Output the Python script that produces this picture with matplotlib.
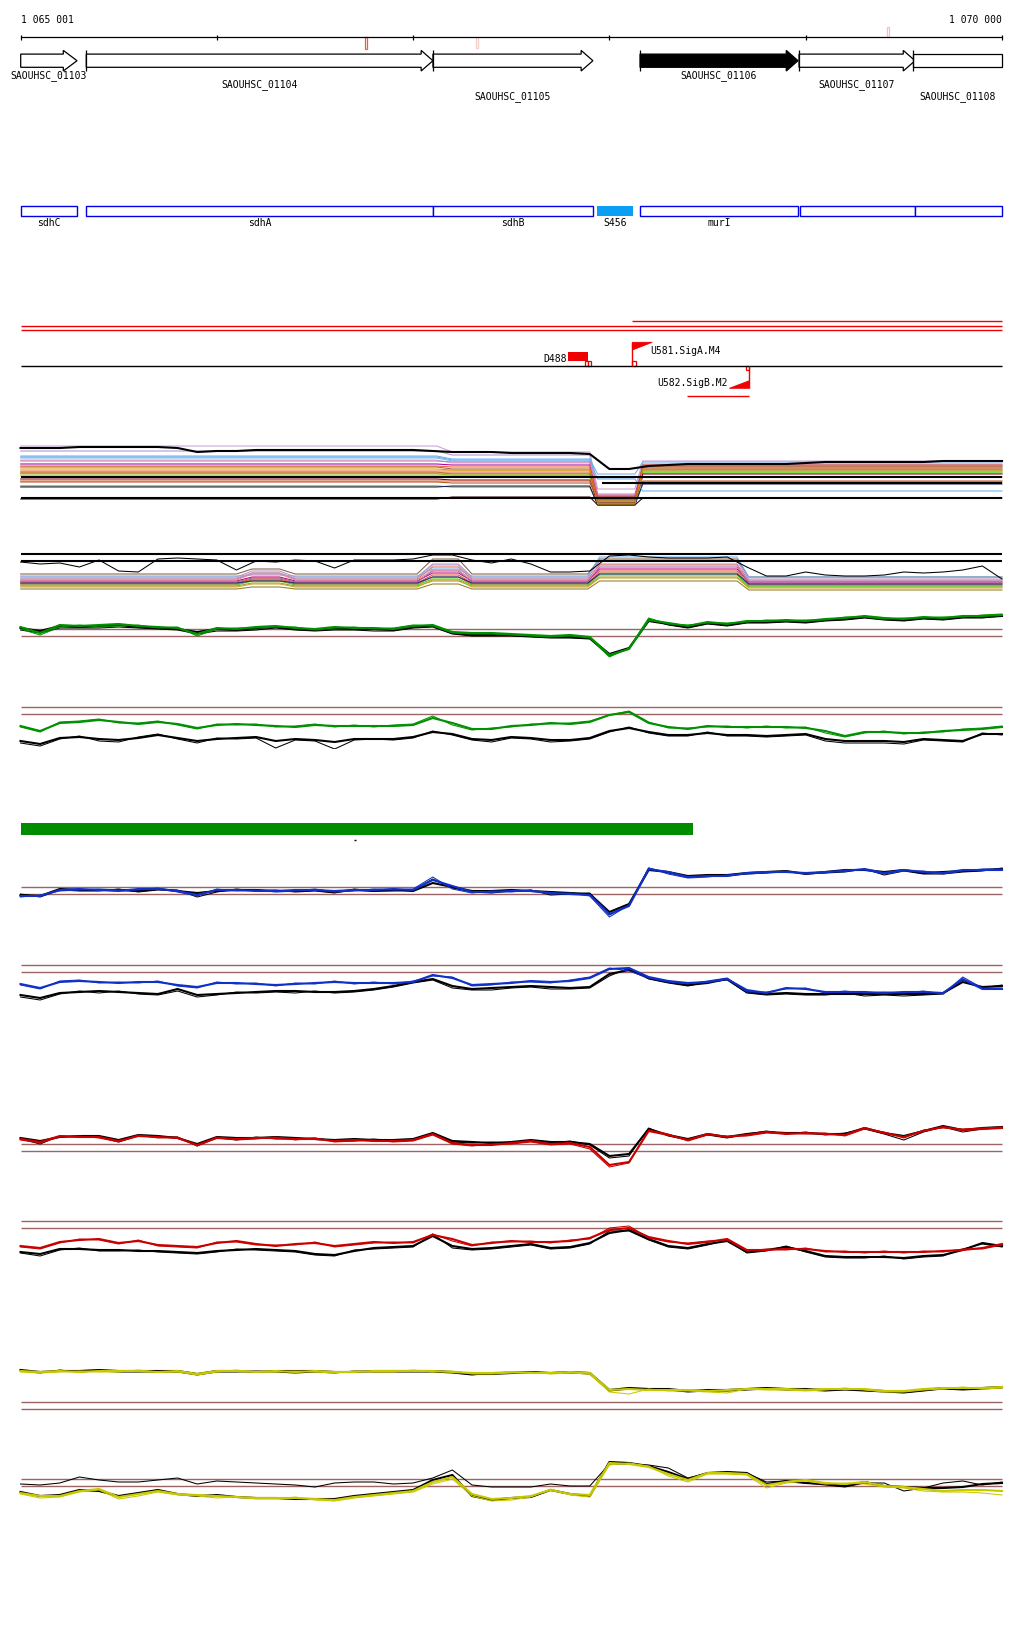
import matplotlib
matplotlib.use('Agg')
import matplotlib.pyplot as plt
from matplotlib.patches import Polygon, Rectangle

# ---------------- layout constants ----------------
W, H = 1024, 1640
START, END = 1065001, 1070000
PX_LEFT, PX_RIGHT = 20.7, 1002.0
BPP = (END - START) / (PX_RIGHT - PX_LEFT)
XL = (START - PX_LEFT * BPP, START + (W - PX_LEFT) * BPP)

# ---------------- data ----------------
RULER_TICKS = [1065001, 1066000, 1067000, 1068000, 1069000, 1070000]
RULER_LABELS = ['1 065 001', '1 070 000']
RULER_MARKS = [1066755, 1067320, 1069414]
RULER_MARK_COLORS = ['#F06040', '#F0D0C8', '#F8C0B0']

GENE_NAMES = ['SAOUHSC_01103', 'SAOUHSC_01104', 'SAOUHSC_01105',
              'SAOUHSC_01106', 'SAOUHSC_01107', 'SAOUHSC_01108']
GENE_START = [1065001, 1065335, 1067101, 1068156, 1068966, 1069547]
GENE_END = [1065288, 1067101, 1067916, 1068961, 1069557, 1070000]
GENE_FILLED = [False, False, False, True, False, False]
GENE_ROW = [0, 1, 2, 0, 1, 2]

FEAT_NAMES = ['sdhC', 'sdhA', 'sdhB', 'S456', 'murI', '', '']
FEAT_START = [1065001, 1065335, 1067101, 1067937, 1068156, 1068971, 1069557]
FEAT_END = [1065288, 1067101, 1067916, 1068120, 1068961, 1069557, 1070000]
FEAT_KIND = ['cds', 'cds', 'cds', 'srna', 'cds', 'cds', 'cds']

RED_SEG_START = [1068113, 1065001, 1065001]
RED_SEG_END = [1070000, 1070000, 1070000]

D488 = (1067787, 1067892)
U581 = (1068117, 1068218)
U582 = (1068611, 1068713)
U582_LINE = (1068394, 1068713)

GREEN_BAR = (1065001, 1068428)
DASH_POS = 1066704

POS = list(range(1065000, 1070001, 100))

# bundle A (many conditions): levels left / mid / dip / right
A_COLORS = ['#C8A0D8', '#B090D0', '#70B0F0', '#80B8E8', '#C8B0E0', '#A000A0',
            '#F06030', '#B06030', '#E8703A', '#A0A010', '#90C020', '#40E010',
            '#800020', '#D06040', '#C05018', '#808000', '#102060', '#300010',
            '#60B0F0', '#E070A0', '#D0A000', '#E05030']
A_LEFT = [65, 60, 55, 53, 51, 47, 45, 44, 40, 39, 37, 35, 32, 30, 29, 25, 24, 12, 54, 50, 42, 38]
A_MID = [59, 56, 52, 50, 48, 46, 44, 42, 40, 37, 36, 35, 31, 30, 28, 24, 25, 14, 51, 49, 41, 38]
A_DIP = [22, 17, 37, 12, 14, 15, 12, 10, 9, 7, 9, 10, 8, 12, 14, 7, 6, 6, 32, 16, 7, 11]
A_RIGHT = [50, 47, 49, 44, 46, 42, 45, 44, 40, 41, 39, 38, 37, 34, 30, 29, 27, 13, 20, 34, 43, 46]
A_BLACK_TOP = [63, 63, 63, 64, 64, 64, 64, 64, 63, 59, 60, 60, 61, 61, 61, 61, 61, 61, 61, 61, 61,
               60, 59, 59, 59, 58, 58, 58, 58, 57, 42, 42, 45, 46, 47, 47, 47, 47, 47, 47, 48,
               49, 49, 49, 49, 49, 49, 50, 50, 50, 50]
A_BLACK_LEVELS = [34, 13]
A_BLACK_RIGHT_LEVEL = 28

# bundle A2: levels base / bump1 / bump2 / raised / right
A2_COLORS = ['#806040', '#C090C0', '#E07040', '#70B0F0', '#C00080', '#A060A0', '#E05040',
             '#A0A020', '#40D010', '#908020', '#B06030', '#E080A0', '#203080', '#B0A0E0', '#D0A030']
A2_BASE = [23, 20, 18, 21, 16, 15, 14, 11, 12, 8, 13, 17, 14, 19, 10]
A2_BUMP1 = [28, 26, 24, 22, 20, 19, 18, 14, 16, 10, 17, 23, 16, 24, 13]
A2_BUMP2 = [38, 33, 30, 28, 24, 26, 22, 16, 18, 13, 20, 27, 20, 32, 17]
A2_RAISED = [38, 36, 32, 40, 28, 30, 26, 20, 22, 16, 24, 33, 23, 37, 19]
A2_RIGHT = [20, 18, 16, 20, 15, 14, 13, 10, 11, 7, 12, 16, 13, 17, 9]
A2_BLACK = [35, 33, 34, 30, 37, 26, 25, 38, 39, 38, 37, 27, 36, 35, 37, 36, 29, 37, 37, 37, 38,
            42, 42, 37, 34, 38, 33, 25, 25, 26, 41, 42, 40, 39, 39, 39, 40, 30, 21, 21, 25,
            22, 21, 21, 22, 25, 24, 25, 27, 31, 18]
A2_REF = [43, 36]

B_COL1 = [34, 28, 36, 35, 36, 37, 35, 34, 33, 27, 33, 32, 34, 35, 33, 32, 34, 33, 33, 32, 35, 36, 29, 28, 28, 27,
          26, 25, 26, 24, 6, 12, 41, 38, 35, 39, 37, 40, 40, 41, 40, 42, 43, 45, 43, 42, 44, 43, 45, 45, 46]
B_COL2 = [32, 26, 34, 36, 34, 35, 36, 33, 34, 25, 32, 33, 33, 34, 34, 31, 33, 34, 32, 33, 36, 35, 28, 27, 27, 26,
          25, 24, 25, 23, 4, 13, 43, 37, 36, 38, 38, 39, 41, 40, 41, 41, 44, 44, 42, 43, 43, 44, 44, 46, 47]
B_BLK1 = [33, 30, 35, 34, 35, 36, 34, 33, 32, 29, 32, 31, 33, 34, 32, 31, 33, 32, 32, 31, 34, 35, 28, 26, 26, 26,
          25, 24, 24, 23, 7, 13, 40, 37, 34, 38, 36, 39, 39, 40, 39, 41, 42, 44, 42, 41, 43, 42, 44, 44, 45]
B_BLK2 = [31, 28, 33, 33, 33, 34, 33, 32, 31, 27, 30, 30, 31, 33, 31, 30, 31, 31, 30, 30, 33, 34, 27, 25, 25, 25,
          24, 23, 23, 22, 5, 12, 42, 36, 33, 37, 35, 38, 38, 39, 38, 40, 41, 43, 41, 40, 42, 41, 43, 43, 45]
B_REF = [32, 25]

C_COL1 = [23, 18, 26, 27, 29, 27, 25, 27, 25, 21, 24, 25, 24, 23, 22, 24, 23, 23, 23, 23, 24, 31, 26, 20, 20, 23,
          24, 26, 25, 27, 34, 37, 26, 22, 20, 23, 22, 22, 22, 22, 21, 18, 13, 17, 17, 16, 16, 18, 19, 20, 22]
C_COL2 = [22, 17, 27, 28, 30, 26, 26, 28, 24, 20, 25, 24, 25, 22, 23, 25, 22, 24, 22, 24, 25, 33, 24, 19, 21, 22,
          25, 25, 26, 28, 34, 38, 27, 21, 21, 22, 23, 21, 23, 21, 22, 16, 12, 16, 18, 15, 17, 17, 20, 21, 23]
C_BLK1 = [8, 5, 11, 12, 10, 9, 11, 14, 11, 8, 10, 11, 12, 8, 10, 9, 7, 10, 10, 10, 12, 17, 15, 10, 9, 12,
          11, 9, 9, 11, 18, 21, 17, 14, 14, 16, 14, 14, 13, 14, 15, 10, 8, 8, 8, 7, 10, 9, 8, 15, 15]
C_BLK2 = [6, 3, 10, 13, 8, 7, 12, 15, 10, 6, 11, 10, 11, 1, 9, 8, 0, 9, 10, 9, 11, 18, 14, 9, 7, 11,
          10, 7, 8, 10, 17, 22, 16, 13, 13, 17, 13, 13, 12, 13, 14, 8, 6, 6, 6, 5, 9, 8, 7, 16, 14]
C_REF = [42, 35]

D_COL1 = [28, 28, 34, 35, 34, 33, 35, 35, 33, 29, 34, 34, 33, 33, 34, 34, 33, 34, 34, 35, 34, 44, 38, 32, 32, 33,
          33, 31, 30, 29, 10, 18, 55, 52, 47, 48, 48, 51, 52, 52, 51, 52, 53, 55, 51, 54, 52, 51, 54, 54, 54]
D_COL2 = [27, 29, 33, 34, 35, 34, 34, 36, 32, 28, 35, 33, 34, 32, 33, 35, 32, 33, 35, 34, 35, 47, 35, 31, 33, 32,
          34, 30, 31, 28, 7, 19, 56, 50, 46, 47, 49, 50, 51, 53, 50, 51, 54, 54, 50, 53, 53, 50, 53, 55, 55]
D_BLK1 = [29, 28, 35, 34, 34, 34, 33, 35, 33, 31, 33, 34, 34, 33, 33, 34, 32, 34, 33, 34, 33, 41, 37, 33, 33, 34,
          33, 32, 31, 30, 12, 20, 54, 52, 48, 49, 49, 51, 52, 53, 50, 52, 54, 54, 52, 54, 51, 52, 53, 54, 55]
D_BLK2 = [30, 27, 34, 33, 33, 35, 32, 34, 34, 27, 32, 35, 33, 34, 32, 33, 31, 35, 33, 33, 34, 45, 36, 32, 31, 33,
          34, 29, 30, 31, 9, 19, 56, 51, 47, 48, 48, 50, 51, 52, 51, 51, 52, 55, 49, 53, 50, 50, 52, 53, 56]
D_REF = [37, 30]

E_COL1 = [20, 16, 22, 23, 22, 21, 22, 22, 19, 17, 21, 21, 20, 19, 20, 21, 22, 21, 21, 21, 22, 29, 26, 19, 20, 21,
          23, 22, 23, 26, 35, 36, 27, 23, 21, 22, 25, 14, 11, 16, 15, 12, 12, 12, 11, 12, 12, 11, 25, 15, 15]
E_COL2 = [19, 15, 23, 24, 21, 22, 21, 23, 18, 16, 22, 20, 21, 18, 21, 20, 23, 20, 22, 20, 23, 28, 27, 18, 19, 22,
          22, 21, 24, 27, 36, 33, 26, 22, 20, 23, 26, 12, 12, 15, 16, 11, 13, 11, 12, 11, 13, 10, 27, 16, 16]
E_BLK1 = [9, 6, 11, 12, 13, 12, 11, 10, 15, 9, 10, 11, 12, 13, 13, 12, 12, 13, 15, 18, 22, 25, 18, 15, 16, 17,
          18, 17, 16, 17, 30, 34, 26, 22, 19, 21, 25, 12, 10, 11, 10, 10, 10, 10, 10, 10, 10, 11, 22, 17, 18]
E_BLK2 = [7, 4, 10, 13, 11, 13, 10, 9, 13, 7, 9, 12, 11, 12, 11, 13, 11, 12, 14, 17, 21, 24, 16, 14, 14, 16,
          17, 15, 15, 16, 28, 36, 25, 21, 18, 22, 24, 11, 9, 10, 9, 9, 11, 8, 9, 8, 9, 10, 24, 16, 19]
E_REF = [39, 32]

F_COL1 = [32, 29, 35, 34, 34, 30, 35, 34, 33, 26, 33, 32, 33, 33, 32, 32, 30, 31, 30, 30, 31, 37, 28, 26, 26, 28,
          30, 27, 28, 24, 6, 9, 40, 36, 31, 37, 34, 36, 39, 37, 38, 37, 36, 43, 38, 34, 40, 44, 41, 42, 43]
F_COL2 = [31, 28, 34, 35, 33, 29, 36, 33, 34, 25, 34, 31, 32, 34, 31, 33, 29, 30, 31, 29, 30, 36, 27, 25, 27, 27,
          29, 26, 27, 22, 4, 8, 41, 37, 30, 36, 35, 35, 38, 38, 37, 38, 35, 42, 39, 33, 41, 43, 42, 43, 44]
F_BLK1 = [33, 30, 34, 35, 35, 31, 36, 35, 33, 27, 34, 33, 33, 34, 33, 32, 31, 32, 31, 31, 32, 38, 30, 29, 28, 29,
          31, 29, 29, 27, 15, 17, 42, 36, 32, 37, 34, 37, 39, 38, 38, 37, 37, 43, 38, 35, 40, 45, 41, 43, 44]
F_BLK2 = [32, 27, 35, 34, 34, 29, 35, 34, 34, 25, 33, 31, 34, 32, 32, 33, 30, 30, 32, 30, 31, 37, 29, 28, 29, 28,
          30, 28, 30, 26, 13, 15, 43, 35, 31, 36, 33, 37, 40, 37, 39, 36, 38, 42, 37, 31, 39, 44, 39, 42, 43]
F_REF = [27, 20]

G_COL1 = [15, 13, 19, 21, 22, 18, 20, 16, 15, 14, 18, 20, 17, 15, 17, 18, 15, 17, 19, 18, 19, 26, 22, 16, 18, 20,
          19, 19, 20, 23, 31, 33, 24, 20, 17, 19, 22, 11, 11, 12, 12, 10, 9, 9, 9, 9, 9, 10, 11, 13, 17]
G_COL2 = [14, 12, 18, 22, 21, 17, 21, 15, 14, 13, 19, 19, 16, 16, 16, 19, 14, 16, 18, 19, 18, 27, 20, 15, 19, 19,
          20, 18, 21, 22, 33, 35, 23, 19, 18, 20, 21, 10, 12, 11, 13, 9, 10, 8, 10, 8, 10, 9, 12, 12, 16]
G_BLK1 = [9, 7, 12, 12, 11, 11, 10, 10, 9, 8, 10, 11, 12, 11, 10, 7, 6, 10, 13, 14, 15, 25, 15, 12, 13, 15,
          17, 13, 14, 18, 28, 31, 22, 15, 13, 17, 20, 9, 11, 14, 10, 5, 4, 4, 4, 3, 5, 6, 11, 18, 15]
G_BLK2 = [8, 5, 11, 13, 10, 10, 11, 9, 8, 7, 9, 12, 11, 10, 9, 6, 5, 11, 12, 13, 14, 27, 13, 11, 12, 14,
          16, 12, 13, 17, 30, 30, 21, 14, 12, 16, 21, 8, 10, 15, 9, 4, 3, 3, 5, 2, 4, 5, 12, 17, 14]
G_REF = [40, 33]

H_COL1 = [43, 42, 43, 42, 43, 43, 43, 42, 43, 40, 43, 43, 42, 43, 42, 43, 42, 42, 43, 43, 43, 43, 42, 41, 41, 42,
          41, 41, 42, 41, 24, 25, 24, 24, 24, 23, 24, 25, 25, 25, 24, 25, 25, 25, 23, 23, 25, 26, 26, 26, 27]
H_COL2 = [42, 41, 42, 43, 42, 42, 44, 42, 42, 39, 42, 44, 42, 42, 43, 42, 41, 43, 42, 42, 44, 42, 43, 40, 40, 41,
          42, 40, 41, 40, 22, 20, 25, 23, 23, 22, 21, 25, 24, 24, 23, 24, 26, 24, 22, 22, 24, 25, 27, 25, 26]
H_BLK1 = [44, 42, 43, 43, 44, 43, 43, 43, 43, 40, 43, 43, 42, 43, 43, 43, 42, 42, 43, 43, 43, 43, 42, 40, 40, 41,
          42, 41, 42, 41, 24, 26, 25, 25, 23, 24, 24, 25, 26, 25, 25, 24, 25, 24, 23, 22, 24, 26, 25, 26, 27]
H_BLK2 = [43, 41, 44, 42, 43, 42, 42, 42, 42, 39, 42, 42, 43, 42, 41, 42, 41, 43, 42, 42, 42, 42, 41, 39, 41, 42,
          41, 41, 41, 40, 23, 25, 24, 24, 22, 23, 23, 24, 25, 24, 24, 23, 24, 23, 22, 21, 23, 25, 24, 25, 26]
H_REF = [12, 5]

I_COL1 = [11, 8, 8, 13, 15, 7, 10, 13, 10, 9, 8, 7, 6, 6, 6, 5, 4, 7, 9, 11, 13, 22, 27, 10, 5, 6,
          8, 14, 10, 9, 41, 40, 37, 30, 24, 31, 31, 30, 19, 22, 24, 21, 20, 22, 18, 17, 15, 13, 14, 14, 13]
I_COL2 = [10, 6, 7, 12, 14, 5, 8, 12, 9, 8, 6, 7, 5, 5, 7, 4, 3, 6, 8, 10, 12, 20, 25, 8, 3, 4,
          7, 15, 9, 7, 39, 41, 38, 28, 22, 30, 30, 29, 16, 21, 23, 20, 21, 20, 17, 16, 13, 12, 12, 11, 9]
I_BLK1 = [12, 8, 9, 14, 13, 8, 11, 14, 10, 8, 9, 7, 6, 6, 5, 5, 5, 8, 10, 12, 14, 24, 29, 8, 4, 6,
          7, 14, 10, 8, 42, 41, 38, 32, 25, 31, 32, 31, 20, 23, 21, 20, 18, 22, 18, 17, 16, 16, 17, 20, 21]
I_BLK2 = [20, 19, 21, 27, 24, 22, 22, 24, 26, 20, 23, 22, 21, 20, 19, 17, 21, 22, 22, 20, 21, 26, 34, 19, 17, 17,
          17, 20, 18, 18, 40, 40, 39, 36, 26, 31, 31, 31, 22, 23, 21, 19, 17, 21, 21, 13, 16, 21, 23, 19, 22]
I_REF = [25, 18]

# ---------------- figure ----------------
MONO = 'DejaVu Sans Mono'
FS = 7
fig = plt.figure(figsize=(W / 100, H / 100), dpi=100)
fig.patch.set_facecolor('white')

ax0 = fig.add_axes([0, 0, 1, 1])
ax0.set_xlim(XL)
ax0.set_ylim(H, 0)
ax0.axis('off')

# ruler
ax0.hlines(38.3, START, END, color='black', lw=0.9)
ax0.vlines(RULER_TICKS, 35.5, 41, color='black', lw=0.9)
ax0.text(RULER_TICKS[0], 20, RULER_LABELS[0], family=MONO, fontsize=FS, ha='left', va='center')
ax0.text(RULER_TICKS[-1], 20, RULER_LABELS[1], family=MONO, fontsize=FS, ha='right', va='center')
mark_y = [(38.3, 11.5), (38.3, 10.5), (28.3, 10)]
for pos, col, (y0, hh) in zip(RULER_MARKS, RULER_MARK_COLORS, mark_y):
    ax0.add_patch(Rectangle((pos, y0), 10, hh, facecolor='white', edgecolor=col, lw=0.9))

# genes
HEAD = 60
ym, bh, hh = 61.7, 6.6, 10.3
label_rows = [76, 85, 97]
for i, (nm, s, e, filled, row) in enumerate(zip(GENE_NAMES, GENE_START, GENE_END, GENE_FILLED, GENE_ROW)):
    fc = 'black' if filled else 'white'
    if i == len(GENE_NAMES) - 1:
        pts = [(s, ym - bh), (e, ym - bh), (e, ym + bh), (s, ym + bh)]
    else:
        hl = 70 if i == 0 else HEAD
        pts = [(s, ym - bh), (e - hl, ym - bh), (e - hl, ym - hh), (e, ym),
               (e - hl, ym + hh), (e - hl, ym + bh), (s, ym + bh)]
    ax0.add_patch(Polygon(pts, closed=True, facecolor=fc, edgecolor='black', lw=0.9, zorder=3))
    if i > 0:
        ax0.vlines(s, ym - hh, ym + hh, color='black', lw=0.9, zorder=4)
    ax0.text((s + e) / 2, label_rows[row], nm, family=MONO, fontsize=FS, ha='center', va='center', zorder=5)

# features
for nm, s, e, kind in zip(FEAT_NAMES, FEAT_START, FEAT_END, FEAT_KIND):
    if kind == 'srna':
        ax0.add_patch(Rectangle((s, 207.3), e - s, 10, facecolor='#0A9EF5', edgecolor='none'))
    else:
        ax0.add_patch(Rectangle((s, 207.3), e - s, 10, facecolor='white', edgecolor='#0000E8', lw=1.0))
    if nm:
        ax0.text((s + e) / 2, 223.5, nm, family=MONO, fontsize=FS, ha='center', va='center')

# red lines and transcription features
for s, e, y in zip(RED_SEG_START, RED_SEG_END, [322.3, 327.3, 331.3]):
    ax0.hlines(y, s, e, color='#F00000', lw=1.0)
ax0.hlines(366.7, START, END, color='black', lw=1.0)

ax0.add_patch(Rectangle((D488[0], 353), D488[1] - D488[0], 8.7, facecolor='#F00000', edgecolor='none'))
for x0 in (D488[1] - 16, D488[1]):
    ax0.add_patch(Rectangle((x0, 362), 15, 4.7, facecolor='white', edgecolor='#F00000', lw=0.9))
ax0.text(D488[0] - 5, 358.5, 'D488', family=MONO, fontsize=FS, ha='right', va='center')

ax0.vlines(U581[0], 343.3, 366.7, color='#F00000', lw=1.0)
ax0.add_patch(Polygon([(U581[0], 343.3), (U581[1], 343.3), (U581[0], 351)], closed=True,
                      facecolor='#F00000', edgecolor='#F00000', lw=0.6))
ax0.add_patch(Rectangle((U581[0], 362), 18, 4.7, facecolor='white', edgecolor='#F00000', lw=0.9))
ax0.text(U581[1] - 12, 350.5, 'U581.SigA.M4', family=MONO, fontsize=FS, ha='left', va='center')

ax0.vlines(U582[1], 366.7, 389.3, color='#F00000', lw=1.0)
ax0.add_patch(Polygon([(U582[1], 389.3), (U582[0], 389.3), (U582[1], 381.7)], closed=True,
                      facecolor='#F00000', edgecolor='#F00000', lw=0.6))
ax0.add_patch(Rectangle((U582[1] - 18, 366.7), 18, 4.5, facecolor='white', edgecolor='#F00000', lw=0.9))
ax0.text(U582[0] - 8, 383, 'U582.SigB.M2', family=MONO, fontsize=FS, ha='right', va='center')
ax0.hlines(397.3, U582_LINE[0], U582_LINE[1], color='#F00000', lw=1.0)

# green bar + dash
ax0.add_patch(Rectangle((GREEN_BAR[0], 824), GREEN_BAR[1] - GREEN_BAR[0], 11.7,
                        facecolor='#008C00', edgecolor='none'))
ax0.hlines(841, DASH_POS - 6, DASH_POS + 6, color='black', lw=1.0)


def track_ax(top, bottom):
    ax = fig.add_axes([0, 1 - bottom / H, 1, (bottom - top) / H])
    ax.set_xlim(XL)
    ax.set_ylim(0, bottom - top)
    ax.axis('off')
    ax.set_facecolor('none')
    return ax


REF_COL = '#9C6464'
THICK, THIN = 1.5, 0.75

# bundle A
axA = track_ax(440, 512)
ax_x = [START, 1067120, 1067200, 1067900, 1067940, 1068130, 1068170, END]
for c, l1, l2, d, r in zip(A_COLORS, A_LEFT, A_MID, A_DIP, A_RIGHT):
    axA.plot(ax_x, [l1, l1, l2, l2, d, d, r, r], color=c, lw=0.75)
axA.hlines(A_BLACK_LEVELS, START, END, color='black', lw=THICK)
axA.hlines(A_BLACK_RIGHT_LEVEL, 1067960, END, color='black', lw=THICK)
axA.plot(POS, A_BLACK_TOP, color='black', lw=THICK)

# bundle A2
axA2 = track_ax(550, 598)
a2_x = [START, 1066100, 1066180, 1066320, 1066400, 1067020, 1067100, 1067230, 1067300,
        1067890, 1067950, 1068650, 1068710, END]
for c, b, b1, b2, e, r in zip(A2_COLORS, A2_BASE, A2_BUMP1, A2_BUMP2, A2_RAISED, A2_RIGHT):
    axA2.plot(a2_x, [b, b, b1, b1, b, b, b2, b2, b, b, e, e, r, r], color=c, lw=0.75)
axA2.hlines(A2_REF, START, END, color='black', lw=THICK)
axA2.plot(POS, A2_BLACK, color='black', lw=THIN)

tracks = [
    ((610, 662), '#009000', B_COL1, B_COL2, B_BLK1, B_BLK2, B_REF),
    ((700, 750), '#009000', C_COL1, C_COL2, C_BLK1, C_BLK2, C_REF),
    ((860, 925), '#1030C8', D_COL1, D_COL2, D_BLK1, D_BLK2, D_REF),
    ((955, 1005), '#1030C8', E_COL1, E_COL2, E_BLK1, E_BLK2, E_REF),
    ((1120, 1172), '#C80000', F_COL1, F_COL2, F_BLK1, F_BLK2, F_REF),
    ((1215, 1262), '#C80000', G_COL1, G_COL2, G_BLK1, G_BLK2, G_REF),
    ((1360, 1415), '#C8C800', H_COL1, H_COL2, H_BLK1, H_BLK2, H_REF),
    ((1455, 1505), '#C8C800', I_COL1, I_COL2, I_BLK1, I_BLK2, I_REF),
]
for (top, bot), col, c1, c2, k1, k2, ref in tracks:
    ax = track_ax(top, bot)
    ax.hlines(ref, START, END, color=REF_COL, lw=1.0)
    ax.plot(POS, k1, color='black', lw=THICK)
    ax.plot(POS, k2, color='black', lw=THIN)
    ax.plot(POS, c1, color=col, lw=THICK)
    ax.plot(POS, c2, color=col, lw=THIN)

fig.savefig('out.png', dpi=100, facecolor='white')
